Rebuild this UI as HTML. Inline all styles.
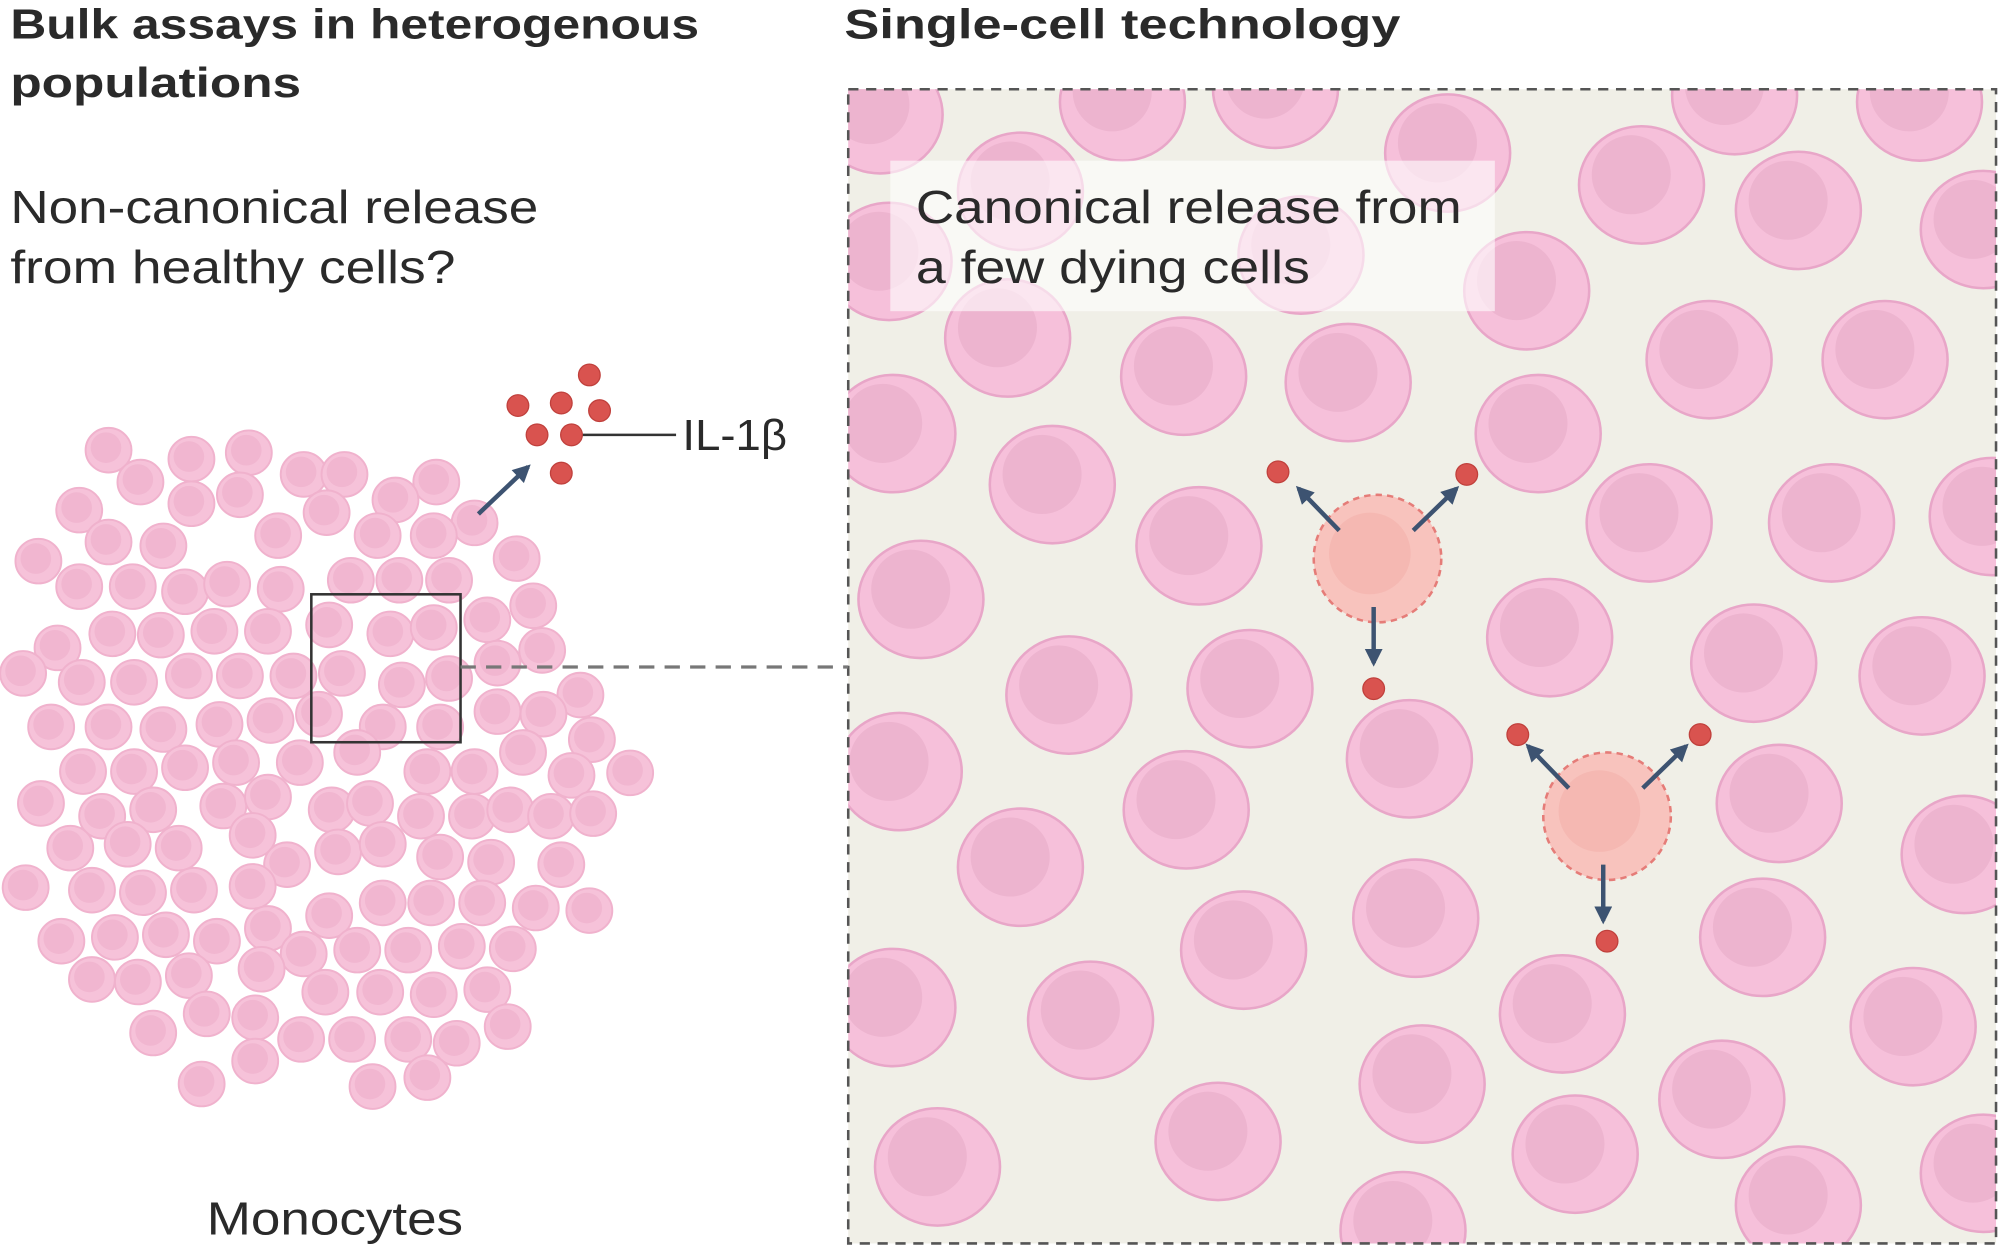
<!DOCTYPE html>
<html><head><meta charset="utf-8"><style>
html,body{margin:0;padding:0;background:#fff;width:2000px;height:1246px;overflow:hidden}
svg{display:block}
text{font-family:"Liberation Sans",sans-serif;fill:#2a2a2a}
</style></head><body>
<svg id="s" width="2000" height="1246" viewBox="0 0 1568 977" xmlns="http://www.w3.org/2000/svg">
<defs>
<clipPath id="bx"><rect x="665" y="70" width="900" height="905"/></clipPath>
<marker id="ah" viewBox="0 0 10 10" refX="8" refY="5" markerWidth="4" markerHeight="4" orient="auto"><path d="M0,0 L10,5 L0,10 z" fill="#3d5371"/></marker>
</defs>
<rect x="665" y="70" width="900" height="905" fill="#f0efe7"/>
<g id="left"></g>
<g id="right" clip-path="url(#bx)"></g>
<rect x="665" y="70" width="900" height="905" fill="none" stroke="#555" stroke-width="2" stroke-dasharray="8,6"/>
<rect x="698" y="126" width="474" height="118" fill="#fff" opacity="0.6"/>
<text x="8" y="30" font-size="33" font-weight="bold" textLength="540" lengthAdjust="spacingAndGlyphs">Bulk assays in heterogenous</text>
<text x="8" y="76" font-size="33" font-weight="bold" textLength="228" lengthAdjust="spacingAndGlyphs">populations</text>
<text x="662" y="30" font-size="33" font-weight="bold" textLength="436" lengthAdjust="spacingAndGlyphs">Single-cell technology</text>
<text x="8" y="175" font-size="36" textLength="414" lengthAdjust="spacingAndGlyphs">Non-canonical release</text>
<text x="8" y="222" font-size="36" textLength="349" lengthAdjust="spacingAndGlyphs">from healthy cells?</text>
<text x="718" y="175" font-size="36" textLength="428" lengthAdjust="spacingAndGlyphs">Canonical release from</text>
<text x="718" y="222" font-size="36" textLength="309" lengthAdjust="spacingAndGlyphs">a few dying cells</text>
<text x="162" y="968" font-size="36" textLength="201" lengthAdjust="spacingAndGlyphs">Monocytes</text>
<text x="535" y="353" font-size="34" textLength="82" lengthAdjust="spacingAndGlyphs">IL-1β</text>
<line x1="448" y1="341" x2="530" y2="341" stroke="#333" stroke-width="2"/>
<rect x="244" y="466" width="117" height="116" fill="none" stroke="#333" stroke-width="2"/>
<line x1="361" y1="523" x2="665" y2="523" stroke="#777" stroke-width="2.5" stroke-dasharray="12,8"/>
<line x1="375" y1="403" x2="414" y2="366" stroke="#3d5371" stroke-width="3.5" marker-end="url(#ah)"/>
<g id="top"></g>
</svg>
<script>
const NS="http://www.w3.org/2000/svg";
function el(p,t,a){const e=document.createElementNS(NS,t);for(const k in a)e.setAttribute(k,a[k]);p.appendChild(e);return e;}
const L=document.getElementById('left'),R=document.getElementById('right'),T=document.getElementById('top');
const lc=[[85,353],[150,360],[195,355],[238,372],[270,372],[342,378],[110,378],[188,388],[310,392],[62,400],[150,395],[256,402],[372,410],[85,425],[128,428],[218,420],[296,420],[340,420],[30,440],[405,438],[62,460],[104,460],[145,464],[178,458],[220,462],[275,455],[313,455],[352,455],[418,475],[382,486],[45,508],[88,497],[126,498],[168,495],[210,495],[258,490],[306,497],[340,492],[425,510],[18,528],[64,535],[105,535],[148,530],[188,530],[230,530],[268,528],[315,537],[352,532],[390,520],[455,545],[40,570],[85,570],[128,572],[172,568],[212,565],[250,560],[300,570],[345,570],[390,558],[426,560],[464,580],[65,605],[105,605],[145,602],[185,598],[235,598],[280,590],[335,605],[372,605],[410,590],[448,608],[494,606],[32,630],[80,640],[120,635],[175,632],[210,625],[260,635],[290,630],[330,640],[370,640],[400,635],[432,640],[465,638],[55,665],[100,662],[140,665],[198,655],[225,678],[265,668],[300,662],[345,672],[385,676],[440,678],[20,696],[72,698],[112,700],[152,698],[198,695],[258,718],[300,708],[338,708],[378,708],[420,712],[462,714],[48,738],[90,735],[130,733],[170,738],[210,728],[238,748],[280,745],[320,745],[362,742],[402,744],[72,768],[108,770],[148,765],[205,760],[255,778],[298,778],[340,780],[382,776],[162,795],[200,798],[236,815],[276,815],[320,815],[358,818],[398,805],[120,810],[200,832],[158,850],[292,852],[335,845]];
lc.forEach(([x,y])=>{el(L,'ellipse',{cx:x,cy:y,rx:18,ry:17.5,fill:'#f6c2d9',stroke:'#f0b2cd','stroke-width':1.5});el(L,'circle',{cx:x-2,cy:y-2,r:12,fill:'#f1b6d0'});});
const rc=[[690,90],[880,80],[1000,70],[1135,120],[1287,145],[1410,165],[1555,180],[1360,75],[1505,80],[800,150],[697,205],[1020,200],[1197,228],[790,265],[928,295],[1057,300],[1340,282],[1478,282],[700,340],[825,380],[940,428],[1206,340],[1293,410],[1436,410],[1562,405],[722,470],[838,545],[980,540],[1215,500],[1375,520],[1507,530],[705,605],[930,635],[1105,595],[1395,630],[1540,670],[800,680],[1110,720],[975,745],[1382,735],[700,790],[855,800],[1225,795],[1500,805],[1115,850],[1350,862],[735,915],[955,895],[1235,905],[1410,945],[1100,965],[1555,920]];
rc.forEach(([x,y])=>{el(R,'ellipse',{cx:x,cy:y,rx:49,ry:46,fill:'#f6c0da',stroke:'#e8a6c8','stroke-width':2});el(R,'circle',{cx:x-8,cy:y-8,r:31,fill:'#edb4cf'});});
[[1080,438],[1260,640]].forEach(([x,y])=>{el(R,'circle',{cx:x,cy:y,r:50,fill:'#f8c3bd',stroke:'#e57c78','stroke-width':2,'stroke-dasharray':'5,4'});el(R,'circle',{cx:x-6,cy:y-4,r:32,fill:'#f5b8b2'});
 el(R,'line',{x1:x-30,y1:y-22,x2:x-62,y2:y-55,stroke:'#3d5371','stroke-width':3.5,'marker-end':'url(#ah)'});
 el(R,'line',{x1:x+28,y1:y-22,x2:x+62,y2:y-55,stroke:'#3d5371','stroke-width':3.5,'marker-end':'url(#ah)'});
 el(R,'line',{x1:x-3,y1:y+38,x2:x-3,y2:y+82,stroke:'#3d5371','stroke-width':3.5,'marker-end':'url(#ah)'});});
[[1002,370],[1150,372],[1077,540],[1190,576],[1333,576],[1260,738],[462,294],[406,318],[440,316],[470,322],[421,341],[448,341],[440,371]].forEach(([x,y])=>{el(T,'circle',{cx:x,cy:y,r:8.5,fill:'#d9534f',stroke:'#c0403c','stroke-width':1});});
</script>
</body></html>
